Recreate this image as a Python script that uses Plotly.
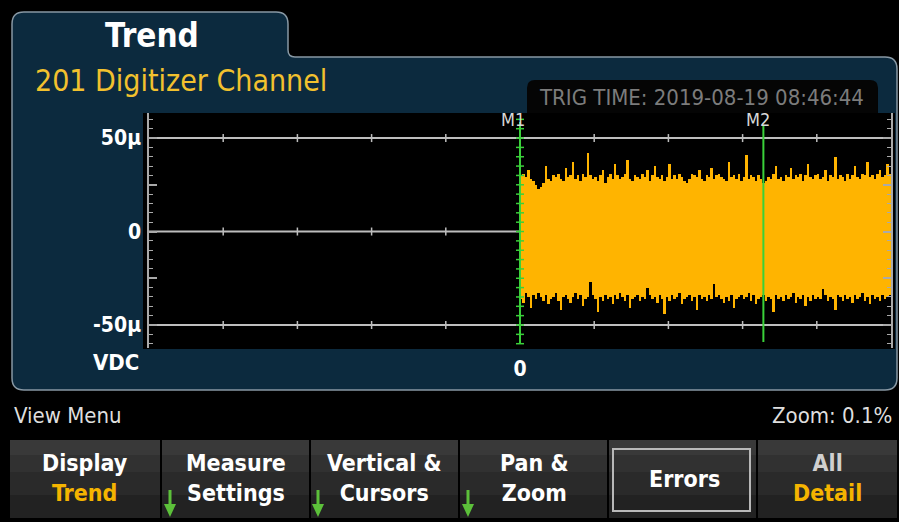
import numpy as np
import plotly.graph_objects as go

W, H = 899, 522
def px(x): return x / W
def py(y): return 1 - y / H

# ---------------- data (µV envelopes of the digitized record) ----------------
upper_uv = [30,31,29,33,28,27,25,23,24,26,
            35,28,27,30,29,31,28,27,34,29,
            30,37,28,30,27,31,29,42,30,28,
            29,27,30,33,26,29,31,28,36,30,
            28,29,31,38,28,27,30,29,28,31,
            29,33,27,30,35,29,28,30,27,29,
            36,28,30,28,31,29,27,26,28,31,
            30,29,33,28,27,30,29,34,28,30,
            31,29,28,27,37,29,30,28,31,27,
            29,41,28,30,29,27,30,28,26,27,
            29,28,31,35,28,29,27,30,29,34,
            28,30,29,31,27,30,36,29,28,30,
            31,28,29,33,27,30,29,40,28,30,
            29,27,31,28,30,35,29,28,31,30,
            37,29,30,28,31,33,29,30,36,31]
lower_uv = [-36,-38,-33,-35,-41,-34,-36,-33,-35,-37,
            -34,-39,-36,-35,-33,-37,-42,-35,-34,-36,
            -38,-35,-33,-36,-34,-40,-36,-35,-27,-34,
            -36,-43,-35,-37,-34,-36,-35,-39,-34,-36,
            -33,-35,-37,-34,-41,-36,-35,-34,-37,-35,
            -36,-30,-34,-36,-35,-38,-34,-36,-44,-35,
            -37,-34,-36,-35,-33,-39,-36,-35,-34,-37,
            -35,-42,-34,-36,-35,-37,-34,-36,-28,-35,
            -34,-36,-38,-35,-37,-34,-41,-36,-35,-34,
            -36,-35,-33,-37,-34,-39,-36,-35,-34,-37,
            -35,-36,-43,-34,-36,-35,-37,-34,-36,-35,
            -33,-38,-35,-36,-34,-40,-35,-37,-34,-36,
            -35,-36,-31,-34,-37,-35,-36,-42,-34,-35,
            -37,-34,-36,-35,-38,-34,-36,-35,-33,-37,
            -35,-39,-34,-36,-35,-37,-34,-36,-35,-34]
n = min(len(upper_uv), len(lower_uv))
upper_uv, lower_uv = upper_uv[:n], lower_uv[:n]
record_span_div = 5.0            # samples run from M1 (0) to the right edge
sample_time_div = [(i + 0.5) * record_span_div / n for i in range(n)]

y_tick_vals = [-50, -25, 0, 25, 50]
y_tick_text = ["-50µ", "", "0", "", "50µ"]
x_tick_vals = [0]
x_tick_text = ["0"]
grid_levels = [-50, 0, 50]
x_divisions = [-4, -3, -2, -1, 0, 1, 2, 3, 4]
m1_pos, m2_pos = 0.0, 3.28
cursor_tick_levels = list(np.arange(-60, 62.5, 5))

title_text = "Trend"
channel_text = "201 Digitizer Channel"
trig_text = "TRIG TIME: 2019-08-19 08:46:44"
unit_text = "VDC"
menu_left = "View Menu"
menu_right = "Zoom: 0.1%"
YEL = "#f5b400"
buttons = [("Display", "Trend", "white", YEL, 10, 160),
           ("Measure", "Settings", "white", "white", 162, 309),
           ("Vertical &", "Cursors", "white", "white", 311, 458),
           ("Pan &", "Zoom", "white", "white", 460, 607),
           ("Errors", None, "white", None, 609, 756),
           ("All", "Detail", "#d0d0d0", YEL, 758, 897)]
arrow_x = [170, 318, 468]

FONT = "DejaVu Sans Condensed, Liberation Sans Narrow, DejaVu Sans, sans-serif"
NAVY = "#0c2a3e"
GREEN = "#3ad13a"
ARROW_GREEN = "#5cc03a"

def path_px(cmds):
    out = []
    for c in cmds:
        if isinstance(c, str):
            out.append(c)
        else:
            out.append(f"{px(c[0]):.5f},{py(c[1]):.5f}")
    return " ".join(out)

fig = go.Figure()

fig.add_trace(go.Bar(
    x=sample_time_div, base=lower_uv,
    y=[u - l for u, l in zip(upper_uv, lower_uv)],
    width=record_span_div / n, marker=dict(color="#ffb400", line=dict(width=0)),
    hoverinfo="skip", showlegend=False))

shapes = []
# main panel with tab
panel = path_px(["M", (12, 378), "L", (12, 24), "Q", (12, 12), (24, 12), "L", (276, 12),
                 "Q", (288, 12), (288, 24), "L", (288, 50), "Q", (288, 57), (295, 57),
                 "L", (885, 57), "Q", (897, 57), (897, 69), "L", (897, 378),
                 "Q", (897, 390), (885, 390), "L", (24, 390), "Q", (12, 390), (12, 378), "Z"])
shapes.append(dict(type="path", path=panel, xref="paper", yref="paper", fillcolor=NAVY,
                   line=dict(color="#8898a4", width=1.5), layer="below"))
trig = path_px(["M", (527, 114), "L", (527, 88), "Q", (527, 80), (535, 80), "L", (870, 80),
                "Q", (878, 80), (878, 88), "L", (878, 114), "Z"])
shapes.append(dict(type="path", path=trig, xref="paper", yref="paper", fillcolor="#050505",
                   line=dict(width=0), layer="below"))
shapes.append(dict(type="rect", xref="paper", yref="paper", x0=px(143), x1=px(895),
                   y0=py(349), y1=py(113), fillcolor="black", line=dict(width=0), layer="below"))
# buttons
for (l1, l2, c1, c2, bx0, bx1) in buttons:
    for (t0, t1, col) in [(440, 518, "#222222"), (440, 495, "#2a2a2a"),
                          (440, 472, "#313131"), (440, 455, "#393939")]:
        shapes.append(dict(type="rect", xref="paper", yref="paper", x0=px(bx0), x1=px(bx1),
                           y0=py(t1), y1=py(t0), fillcolor=col, line=dict(width=0),
                           layer="below"))
shapes.append(dict(type="rect", xref="paper", yref="paper", x0=px(613), x1=px(750),
                   y0=py(511), y1=py(449), fillcolor="rgba(0,0,0,0)",
                   line=dict(color="#b8b8b8", width=2), layer="below"))
# green soft-key arrows
for a in arrow_x:
    shapes.append(dict(type="line", xref="paper", yref="paper", x0=px(a), x1=px(a),
                       y0=py(490), y1=py(508), line=dict(color=ARROW_GREEN, width=3),
                       layer="above"))
    head = path_px(["M", (a - 6, 504), "L", (a + 6, 504), "L", (a, 517), "Z"])
    shapes.append(dict(type="path", path=head, xref="paper", yref="paper",
                       fillcolor=ARROW_GREEN, line=dict(width=0), layer="above"))
# gridlines + division ticks
for lv in grid_levels:
    shapes.append(dict(type="line", xref="x domain", yref="y", x0=0, x1=1, y0=lv, y1=lv,
                       line=dict(color="#bdbdbd", width=2), layer="below"))
    for d in x_divisions:
        shapes.append(dict(type="line", xref="x", yref="y", ysizemode="pixel", yanchor=lv,
                           x0=d, x1=d, y0=-4, y1=4, line=dict(color="#bdbdbd", width=1.5),
                           layer="below"))
# cursors
shapes.append(dict(type="line", xref="x", yref="paper", x0=m1_pos, x1=m1_pos,
                   y0=py(344), y1=py(122), line=dict(color=GREEN, width=2), layer="above"))
for lv in cursor_tick_levels:
    shapes.append(dict(type="line", xref="x", yref="y", xsizemode="pixel", xanchor=m1_pos,
                       x0=-4, x1=4, y0=lv, y1=lv, line=dict(color=GREEN, width=1.5),
                       layer="above"))
shapes.append(dict(type="line", xref="x", yref="paper", x0=m2_pos, x1=m2_pos,
                   y0=py(342), y1=py(125), line=dict(color=GREEN, width=2), layer="above"))

ann = []
def text(x, y, s, size, color, xanchor="center", weight="normal"):
    ann.append(dict(x=px(x), y=py(y), xref="paper", yref="paper", text=s, showarrow=False,
                    xanchor=xanchor, yanchor="middle",
                    font=dict(family=FONT, size=size, color=color, weight=weight)))

text(152, 35, title_text, 33, "white", weight="bold")
text(33, 81, channel_text, 30, "#f2c12e", xanchor="left")
text(537, 97, trig_text, 22, "#7c7c7c", xanchor="left")
text(513, 119, "M1", 18, "#d8d8d8")
text(758, 119, "M2", 18, "#d8d8d8")
text(141, 362, unit_text, 22, "white", xanchor="right", weight="bold")
text(12, 415, menu_left, 22, "#dedede", xanchor="left")
text(894, 415, menu_right, 22, "#dedede", xanchor="right")
for (l1, l2, c1, c2, bx0, bx1) in buttons:
    cx = (bx0 + bx1) / 2
    if l2 is None:
        text(cx + 2, 479, l1, 23, c1, weight="bold")
    else:
        s = f"<span style='color:{c1}'>{l1}</span><br><span style='color:{c2}'>{l2}</span>"
        text(cx, 478, s, 23, c1, weight="bold")

fig.update_layout(
    width=W, height=H, margin=dict(l=0, r=0, t=0, b=0, pad=0),
    paper_bgcolor="black", plot_bgcolor="rgba(0,0,0,0)",
    bargap=0, showlegend=False, shapes=shapes, annotations=ann,
    xaxis=dict(domain=[px(149), px(891)], range=[-5, 5], showgrid=False, zeroline=False,
               showline=False, ticks="", tickvals=x_tick_vals, ticktext=x_tick_text,
               tickfont=dict(family=FONT, size=21, color="white", weight="bold"),
               ticklabelstandoff=6),
    yaxis=dict(domain=[py(348), py(113)], range=[-62.3, 63.4], showgrid=False, zeroline=False,
               showline=True, linecolor="#aaaaaa", linewidth=1.5, mirror="ticks",
               ticks="inside", ticklen=8, tickcolor="#aaaaaa", tickwidth=1.5,
               tickvals=y_tick_vals, ticktext=y_tick_text,
               minor=dict(dtick=5, ticks="inside", ticklen=4, tickcolor="#aaaaaa", tickwidth=1,
                          showgrid=False),
               tickfont=dict(family=FONT, size=21, color="white", weight="bold"),
               ticklabelstandoff=2),
)
fig.write_html("out.html", config={"displayModeBar": False},
               post_script="document.body.style.margin='0';document.body.style.overflow='hidden';")
